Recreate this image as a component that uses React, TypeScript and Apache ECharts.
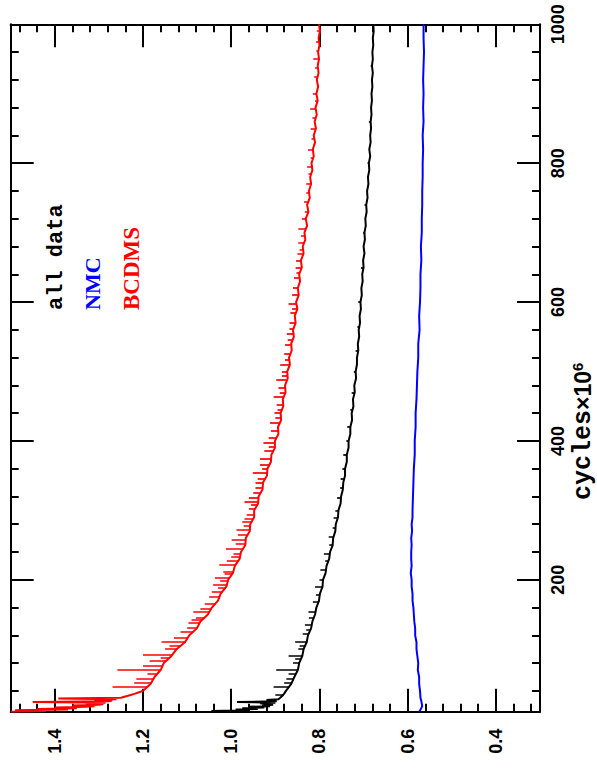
import React, { useEffect, useRef } from "react";
import * as echarts from "echarts";

// axis ranges / steps
const valueRange = [0.3, 1.5];
const cycleRange = [10, 1000];
const valueMajor = 0.2;
const valueMinor = 0.04;
const cycleMajor = 200;
const cycleMinor = 40;

const legendLabels = ["all data", "NMC", "BCDMS"];
const axisTitle = ["cycles", "×10", "6"];

// BCDMS (red): [cycle, value]
const redLine = [
  [10, 1.5], [11, 1.42], [12, 1.49], [13, 1.37], [14, 1.44], [15, 1.35], [16, 1.4], [17, 1.33], [18, 1.31],
  [19, 1.36], [20, 1.3], [21, 1.29], [22, 1.33], [23, 1.285], [24, 1.45], [25, 1.278], [26, 1.27], [27, 1.31],
  [28, 1.26], [29, 1.392], [30, 1.25], [32, 1.24], [34, 1.228], [36, 1.218], [38, 1.209],
  [40, 1.2], [50, 1.183], [60, 1.174], [70, 1.16], [80, 1.153], [90, 1.136], [100, 1.124], [110, 1.105],
  [120, 1.095], [130, 1.078], [140, 1.07], [150, 1.053], [160, 1.044], [170, 1.03], [180, 1.024], [190, 1.011],
  [200, 1.007], [210, 0.996], [220, 0.992], [230, 0.981], [240, 0.978], [250, 0.968], [260, 0.967], [270, 0.958],
  [280, 0.957], [290, 0.948], [300, 0.948], [310, 0.939], [320, 0.938], [330, 0.929], [340, 0.928], [350, 0.919],
  [360, 0.918], [370, 0.91], [380, 0.909], [390, 0.901], [400, 0.901], [410, 0.893], [420, 0.894], [430, 0.887],
  [440, 0.888], [450, 0.882], [460, 0.883], [470, 0.877], [480, 0.878], [490, 0.872], [500, 0.873], [510, 0.867],
  [520, 0.869], [530, 0.863], [540, 0.864], [550, 0.858], [560, 0.86], [570, 0.854], [580, 0.856], [590, 0.85],
  [600, 0.853], [610, 0.847], [620, 0.849], [630, 0.844], [640, 0.846], [650, 0.84], [660, 0.842], [670, 0.836],
  [680, 0.838], [690, 0.832], [700, 0.834], [710, 0.828], [720, 0.831], [730, 0.825], [740, 0.828], [750, 0.822],
  [760, 0.824], [770, 0.819], [780, 0.821], [790, 0.816], [800, 0.818], [810, 0.813], [820, 0.815], [830, 0.81],
  [840, 0.813], [850, 0.808], [860, 0.811], [870, 0.806], [880, 0.809], [890, 0.804], [900, 0.807], [910, 0.803],
  [920, 0.806], [930, 0.802], [940, 0.804], [950, 0.801], [960, 0.803], [970, 0.8], [980, 0.802], [990, 0.799],
  [1000, 0.801],
];
// red spikes: [cycle, base, peak]
const redSpikes = [
  [46, 1.19, 1.269], [52, 1.181, 1.22], [58, 1.176, 1.215], [64, 1.17, 1.19], [70, 1.16, 1.258], [76, 1.156, 1.2],
  [83, 1.148, 1.185], [87, 1.142, 1.16], [92, 1.134, 1.2], [100, 1.124, 1.15], [105, 1.114, 1.14],
  [111, 1.104, 1.158], [117, 1.098, 1.13], [125, 1.087, 1.115], [131, 1.078, 1.1], [138, 1.072, 1.097],
  [142, 1.066, 1.09], [146, 1.06, 1.08], [154, 1.05, 1.086], [158, 1.046, 1.07], [166, 1.036, 1.06],
  [175, 1.027, 1.05], [183, 1.02, 1.044], [188, 1.013, 1.03], [193, 1.01, 1.041], [198, 1.008, 1.025],
  [203, 1.005, 1.037], [208, 0.998, 1.015], [212, 0.995, 1.018], [222, 0.99, 1.027], [227, 0.985, 1.01],
  [233, 0.98, 1.0], [238, 0.979, 0.995], [245, 0.973, 1.012], [252, 0.968, 0.99], [258, 0.966, 0.999],
  [265, 0.962, 0.985], [272, 0.958, 0.988], [278, 0.957, 0.972], [283, 0.954, 0.975], [288, 0.95, 0.97],
  [294, 0.948, 0.965], [302, 0.946, 0.96], [308, 0.941, 0.955], [313, 0.939, 0.97], [318, 0.938, 0.96],
  [325, 0.933, 0.95], [332, 0.929, 0.945], [340, 0.928, 0.945], [346, 0.923, 0.94], [354, 0.919, 0.951],
  [360, 0.918, 0.93], [365, 0.914, 0.935], [375, 0.91, 0.935], [386, 0.905, 0.925], [392, 0.901, 0.915],
  [397, 0.901, 0.927], [405, 0.897, 0.915], [415, 0.893, 0.91], [426, 0.89, 0.912], [434, 0.887, 0.9],
  [440, 0.888, 0.902], [445, 0.885, 0.895], [452, 0.882, 0.897], [464, 0.881, 0.904], [470, 0.877, 0.89],
  [476, 0.877, 0.893], [488, 0.876, 0.898], [494, 0.872, 0.885], [500, 0.873, 0.885], [510, 0.867, 0.889],
  [517, 0.868, 0.878], [525, 0.866, 0.88], [538, 0.863, 0.878], [545, 0.861, 0.872], [555, 0.859, 0.874],
  [562, 0.86, 0.868], [570, 0.854, 0.868], [585, 0.853, 0.866], [590, 0.85, 0.862], [598, 0.852, 0.87],
  [610, 0.847, 0.862], [620, 0.849, 0.86], [635, 0.845, 0.858], [642, 0.845, 0.852], [649, 0.841, 0.854],
  [660, 0.842, 0.853], [670, 0.836, 0.85], [675, 0.837, 0.845], [685, 0.835, 0.848], [695, 0.833, 0.842],
  [706, 0.831, 0.848], [720, 0.831, 0.84], [730, 0.825, 0.833], [745, 0.825, 0.835], [758, 0.823, 0.83],
  [770, 0.819, 0.83], [785, 0.819, 0.825], [795, 0.817, 0.828], [808, 0.814, 0.82], [820, 0.815, 0.826],
  [835, 0.811, 0.818], [850, 0.808, 0.82], [865, 0.81, 0.816], [879, 0.808, 0.821], [890, 0.804, 0.81],
  [900, 0.807, 0.815], [925, 0.804, 0.812], [938, 0.804, 0.81], [951, 0.801, 0.814], [962, 0.803, 0.807],
  [975, 0.801, 0.808], [990, 0.799, 0.806],
];

// all data (black)
const blackLine = [
  [10, 1.0], [11, 1.045], [12, 0.96], [13, 0.99], [14, 0.94], [15, 0.975], [16, 0.925], [17, 0.96], [18, 0.912],
  [19, 0.93], [20, 0.905], [22, 0.935], [23, 0.9], [24, 0.987], [25, 0.897], [27, 0.92], [28, 0.893], [30, 0.889],
  [33, 0.884], [36, 0.88],
  [40, 0.876], [50, 0.864], [60, 0.857], [70, 0.849], [80, 0.846], [90, 0.839], [100, 0.836], [110, 0.829],
  [120, 0.826], [130, 0.819], [140, 0.816], [150, 0.81], [160, 0.807], [170, 0.801], [180, 0.799], [190, 0.793],
  [200, 0.792], [210, 0.786], [220, 0.784], [230, 0.778], [240, 0.776], [250, 0.77], [260, 0.769], [270, 0.764],
  [280, 0.763], [290, 0.758], [300, 0.757], [310, 0.752], [320, 0.751], [330, 0.747], [340, 0.746], [350, 0.742],
  [360, 0.742], [370, 0.738], [380, 0.738], [390, 0.734], [400, 0.734], [410, 0.73], [420, 0.73], [430, 0.726],
  [440, 0.727], [450, 0.723], [460, 0.724], [470, 0.72], [480, 0.721], [490, 0.717], [500, 0.718], [510, 0.715],
  [520, 0.715], [530, 0.712], [540, 0.713], [550, 0.71], [560, 0.711], [570, 0.708], [580, 0.709], [590, 0.706],
  [600, 0.707], [610, 0.704], [620, 0.705], [630, 0.702], [640, 0.703], [650, 0.7], [660, 0.701], [670, 0.698],
  [680, 0.7], [690, 0.697], [700, 0.698], [710, 0.695], [720, 0.696], [730, 0.693], [740, 0.694], [750, 0.691],
  [760, 0.692], [770, 0.689], [780, 0.69], [790, 0.687], [800, 0.688], [810, 0.685], [820, 0.687], [830, 0.684],
  [840, 0.685], [850, 0.683], [860, 0.684], [870, 0.682], [880, 0.683], [890, 0.681], [900, 0.682], [910, 0.68],
  [920, 0.681], [930, 0.679], [940, 0.681], [950, 0.679], [960, 0.68], [970, 0.678], [980, 0.679], [990, 0.677],
  [1000, 0.678],
];
const blackSpikes = [
  [35, 0.881, 0.9], [46, 0.868, 0.904], [52, 0.863, 0.88], [58, 0.858, 0.875], [64, 0.854, 0.87], [70, 0.849, 0.898],
  [80, 0.846, 0.86], [86, 0.842, 0.855], [91, 0.839, 0.87], [100, 0.836, 0.848], [105, 0.833, 0.845],
  [111, 0.829, 0.855], [122, 0.825, 0.838], [128, 0.821, 0.83], [135, 0.818, 0.833], [145, 0.813, 0.824],
  [154, 0.809, 0.825], [168, 0.802, 0.815], [178, 0.8, 0.808], [190, 0.793, 0.81], [200, 0.792, 0.8],
  [215, 0.785, 0.798], [228, 0.779, 0.787], [238, 0.777, 0.79], [250, 0.77, 0.778], [262, 0.768, 0.779],
  [275, 0.763, 0.77], [290, 0.758, 0.768], [300, 0.757, 0.764], [318, 0.751, 0.76], [332, 0.747, 0.753],
  [345, 0.744, 0.752], [360, 0.742, 0.748], [380, 0.738, 0.746], [400, 0.734, 0.739], [420, 0.73, 0.737],
  [445, 0.725, 0.73], [470, 0.72, 0.727], [500, 0.718, 0.722], [530, 0.712, 0.718], [565, 0.71, 0.714],
  [600, 0.707, 0.712], [650, 0.7, 0.706], [700, 0.698, 0.701], [740, 0.694, 0.698], [800, 0.688, 0.691],
  [860, 0.684, 0.688], [940, 0.681, 0.684],
];

// NMC (blue)
const blueLine = [
  [10, 0.574], [14, 0.57], [18, 0.567], [25, 0.569], [30, 0.571], [40, 0.572], [50, 0.574], [60, 0.574],
  [70, 0.577], [80, 0.576], [90, 0.578], [100, 0.58], [110, 0.58], [120, 0.583], [130, 0.583], [140, 0.585],
  [150, 0.586], [160, 0.587], [170, 0.589], [180, 0.589], [190, 0.591], [200, 0.591], [210, 0.593], [220, 0.591],
  [230, 0.592], [240, 0.592], [250, 0.591], [260, 0.592], [270, 0.59], [280, 0.591], [290, 0.589], [300, 0.589],
  [320, 0.588], [340, 0.587], [360, 0.586], [380, 0.584], [400, 0.584], [420, 0.582], [440, 0.582], [460, 0.58],
  [480, 0.579], [500, 0.578], [520, 0.576], [540, 0.576], [560, 0.573], [580, 0.574], [600, 0.572], [620, 0.571],
  [640, 0.571], [660, 0.569], [680, 0.57], [700, 0.568], [720, 0.568], [740, 0.567], [760, 0.567], [780, 0.566],
  [800, 0.566], [820, 0.565], [840, 0.566], [860, 0.564], [880, 0.565], [900, 0.564], [920, 0.565], [940, 0.564],
  [960, 0.563], [980, 0.564], [1000, 0.564],
];

const RED = "#ff0000";
const BLACK = "#000000";
const BLUE = "#0000ff";

function lineData(pts: number[][]) {
  return pts.map((p) => [p[1], p[0]]);
}
function spikeData(sp: number[][]) {
  return sp.map((s) => ({ coords: [[s[1], s[0]], [s[2], s[0]]] }));
}

const tickLine = { color: "#000", width: 2 };

function xAxisDef(position: string, major: boolean, labels: boolean) {
  return {
    type: "value",
    position,
    inverse: true,
    min: valueRange[0],
    max: valueRange[1],
    minInterval: major ? valueMajor : valueMinor,
    maxInterval: major ? valueMajor : valueMinor,
    axisLine: { show: major, onZero: false, lineStyle: tickLine },
    axisTick: { show: true, inside: true, length: major ? 23 : 8, lineStyle: tickLine },
    axisLabel: labels
      ? {
          show: true,
          rotate: 90,
          margin: 17,
          color: "#000",
          fontSize: 18,
          fontWeight: "bold",
          fontFamily: "Liberation Sans",
          showMinLabel: false,
          showMaxLabel: false,
          formatter: (v: number) => v.toFixed(1),
        }
      : { show: false },
    splitLine: { show: false },
  };
}
function yAxisDef(position: string, major: boolean, labels: boolean) {
  return {
    type: "value",
    position,
    min: cycleRange[0],
    max: cycleRange[1],
    minInterval: major ? cycleMajor : cycleMinor,
    maxInterval: major ? cycleMajor : cycleMinor,
    axisLine: { show: major, onZero: false, lineStyle: tickLine },
    axisTick: { show: true, inside: true, length: major ? 23 : 8, lineStyle: tickLine },
    axisLabel: labels
      ? {
          show: true,
          rotate: 90,
          margin: 9,
          color: "#000",
          fontSize: 18,
          fontWeight: "bold",
          fontFamily: "Liberation Sans",
          showMinLabel: false,
          showMaxLabel: true,
          formatter: (v: number) => String(Math.round(v)),
        }
      : { show: false },
    splitLine: { show: false },
  };
}

export default function App() {
  const ref = useRef<HTMLDivElement>(null);
  useEffect(() => {
    if (!ref.current) return;
    const chart = echarts.init(ref.current, null, { renderer: "svg" });
    const option: any = {
      animation: false,
      backgroundColor: "#ffffff",
      grid: { left: 10.7, right: 57, top: 24.3, bottom: 63.3, containLabel: false, outerBoundsMode: "none" },
      xAxis: [
        xAxisDef("bottom", true, true),
        xAxisDef("bottom", false, false),
        xAxisDef("top", true, false),
        xAxisDef("top", false, false),
      ],
      yAxis: [
        yAxisDef("right", true, true),
        yAxisDef("right", false, false),
        yAxisDef("left", true, false),
        yAxisDef("left", false, false),
      ],
      series: [
        {
          type: "line",
          name: legendLabels[2],
          xAxisIndex: 0,
          yAxisIndex: 0,
          data: lineData(redLine),
          showSymbol: false,
          symbol: "none",
          lineStyle: { color: RED, width: 2 },
          silent: true,
        },
        {
          type: "lines",
          coordinateSystem: "cartesian2d",
          xAxisIndex: 0,
          yAxisIndex: 0,
          data: spikeData(redSpikes),
          lineStyle: { color: RED, width: 1.7, opacity: 1 },
          silent: true,
        },
        {
          type: "line",
          name: legendLabels[0],
          xAxisIndex: 0,
          yAxisIndex: 0,
          data: lineData(blackLine),
          showSymbol: false,
          symbol: "none",
          lineStyle: { color: BLACK, width: 2 },
          silent: true,
        },
        {
          type: "lines",
          coordinateSystem: "cartesian2d",
          xAxisIndex: 0,
          yAxisIndex: 0,
          data: spikeData(blackSpikes),
          lineStyle: { color: BLACK, width: 1.7, opacity: 1 },
          silent: true,
        },
        {
          type: "line",
          name: legendLabels[1],
          xAxisIndex: 0,
          yAxisIndex: 0,
          data: lineData(blueLine),
          showSymbol: false,
          symbol: "none",
          lineStyle: { color: BLUE, width: 2 },
          silent: true,
        },
      ],
      graphic: [
        {
          type: "text",
          x: 56.5,
          y: 310,
          rotation: Math.PI / 2,
          style: {
            text: legendLabels[0],
            fill: BLACK,
            font: 'bold 22px "Liberation Mono"',
            align: "left",
            verticalAlign: "middle",
          },
        },
        {
          type: "text",
          x: 92.5,
          y: 310,
          rotation: Math.PI / 2,
          style: {
            text: legendLabels[1],
            fill: BLUE,
            font: 'bold 22px "Liberation Serif"',
            align: "left",
            verticalAlign: "middle",
          },
        },
        {
          type: "text",
          x: 131,
          y: 310,
          rotation: Math.PI / 2,
          style: {
            text: legendLabels[2],
            fill: RED,
            font: 'bold 23px "Liberation Serif"',
            align: "left",
            verticalAlign: "middle",
          },
        },
        {
          type: "text",
          x: 583,
          y: 500,
          rotation: Math.PI / 2,
          style: {
            text: `{a|${axisTitle[0]}}{b|${axisTitle[1]}}{c|${axisTitle[2]}}`,
            fill: BLACK,
            align: "left",
            verticalAlign: "middle",
            rich: {
              a: { fontFamily: "Liberation Mono", fontWeight: "bold", fontSize: 25, fill: BLACK, lineHeight: 26 },
              b: { fontFamily: "Liberation Sans", fontWeight: "bold", fontSize: 23, fill: BLACK, lineHeight: 26 },
              c: { fontFamily: "Liberation Sans", fontWeight: "bold", fontSize: 15, fill: BLACK, lineHeight: 26, verticalAlign: "top", padding: [0, 0, 10, 0] },
            },
          },
        },
      ],
    };
    chart.setOption(option);
    return () => chart.dispose();
  }, []);
  return (
    <div
      ref={ref}
      style={{ position: "fixed", left: 0, top: 0, width: 597, height: 775, background: "#fff" }}
    />
  );
}
